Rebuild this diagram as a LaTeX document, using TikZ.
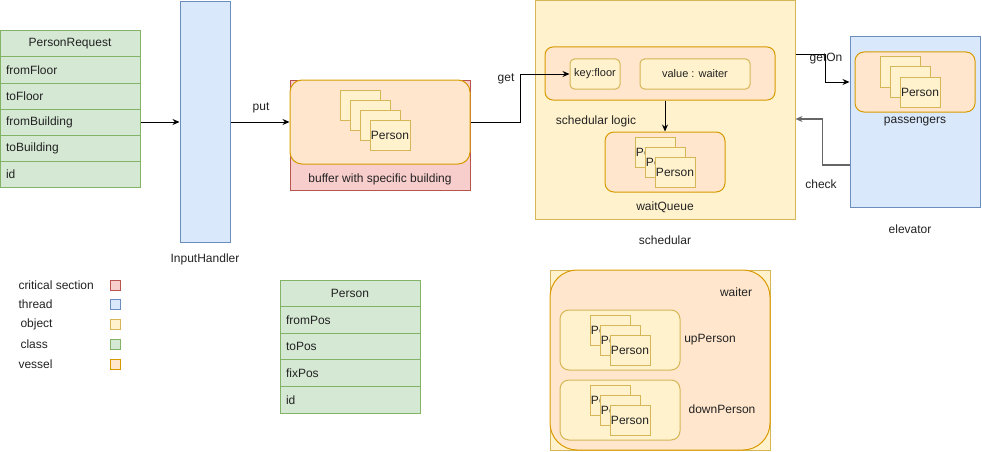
\documentclass[tikz,border=0pt]{standalone}
\usepackage{fontspec}
\setmainfont{Liberation Sans}
\usetikzlibrary{arrows.meta}

\definecolor{critFill}{HTML}{F8CECC}
\definecolor{critLine}{HTML}{B85450}
\definecolor{threadFill}{HTML}{DAE8FC}
\definecolor{threadLine}{HTML}{6C8EBF}
\definecolor{objFill}{HTML}{FFF2CC}
\definecolor{objLine}{HTML}{D6B656}
\definecolor{classFill}{HTML}{D5E8D4}
\definecolor{classLine}{HTML}{82B366}
\definecolor{vesselFill}{HTML}{FFE6CC}
\definecolor{vesselLine}{HTML}{D79B00}
\definecolor{ink}{HTML}{222222}
\definecolor{checkLine}{HTML}{666666}

\begin{document}
\begin{tikzpicture}[x=1pt,y=-1pt,line width=1pt,
    every node/.style={font=\fontsize{12}{14}\selectfont, text=ink, inner sep=0pt},
    crit/.style={draw=critLine, fill=critFill},
    thread/.style={draw=threadLine, fill=threadFill},
    object/.style={draw=objLine, fill=objFill},
    class/.style={draw=classLine, fill=classFill},
    vessel/.style={draw=vesselLine, fill=vesselFill},
    card/.style={object, minimum width=40, minimum height=30},
    head/.style={class, minimum width=140, minimum height=26},
    row/.style={class, minimum height=26, text width=128pt, align=left, inner xsep=6pt},
    legendbox/.style={minimum width=10, minimum height=10},
    arrow/.style={-{Stealth[length=7pt,width=6pt]}}]
    \useasboundingbox (0,0) rectangle (982,452);

    % PersonRequest class
    \node[head] at (70,44)  (req)              {PersonRequest};
    \node[row]  at (70,70)  (req_fromFloor)    {fromFloor};
    \node[row]  at (70,96)  (req_toFloor)      {toFloor};
    \node[row]  at (70,122) (req_fromBuilding) {fromBuilding};
    \node[row]  at (70,148) (req_toBuilding)   {toBuilding};
    \node[row]  at (70,174) (req_id)           {id};

    % input thread
    \node[thread, minimum width=50, minimum height=240] at (205,122) (handler) {};
    \node at (205,259) (handler_label) {InputHandler};

    % buffer
    \node[crit, minimum width=180, minimum height=110] at (380,135) (buf_crit) {};
    \node[vessel, rounded corners=12pt, minimum width=180, minimum height=84] at (380,122) (buf) {};
    \node[card] at (360,105) (buf_p1) {};
    \node[card] at (370,115) (buf_p2) {};
    \node[card] at (380,125) (buf_p3) {};
    \node[card] at (390,135) (buf_p4) {Person};
    \node at (380,179) (buf_label) {buffer with specific building};

    % schedular
    \node[object, minimum width=260, minimum height=219] at (665,110) (sched) {};
    \node[vessel, rounded corners=8pt, minimum width=230, minimum height=53] at (660,73.5) (logic) {};
    \node[object, rounded corners=4.5pt, minimum width=50, minimum height=30, font=\fontsize{11}{13}\selectfont] at (595,74) (key) {key:floor};
    \node[object, rounded corners=4.5pt, minimum width=110, minimum height=30, font=\fontsize{11}{13}\selectfont] at (695,74) (value) {value : waiter};
    \node at (596,121) (logic_label) {schedular logic};
    \node[vessel, rounded corners=9pt, minimum width=120, minimum height=60] at (665,162) (wait) {};
    \node[card] at (655,152) (wait_p1) {Person};
    \node[card] at (665,162) (wait_p2) {Person};
    \node[card] at (675,172) (wait_p3) {Person};
    \node at (665,207) (wait_label) {waitQueue};
    \node at (665,240) (sched_label) {schedular};

    % elevator
    \node[thread, minimum width=130, minimum height=170] at (915,122) (elev) {};
    \node[vessel, rounded corners=9pt, minimum width=120, minimum height=60] at (915,82) (pass) {};
    \node[card] at (900,72) (pass_p1) {};
    \node[card] at (910,82) (pass_p2) {};
    \node[card] at (920,92) (pass_p3) {Person};
    \node at (915,122) (pass_label) {passengers};
    \node at (910,229) (elev_label) {elevator};

    % legend
    \node[anchor=west] at (18,285) (lg_crit)   {critical section};
    \node[anchor=west] at (18,304) (lg_thread) {thread};
    \node[anchor=west] at (20,324) (lg_obj)    {object};
    \node[anchor=west] at (20,344) (lg_class)  {class};
    \node[anchor=west] at (18,364) (lg_vessel) {vessel};
    \node[crit, legendbox]   at (115,285) (lg_crit_box)   {};
    \node[thread, legendbox] at (115,304) (lg_thread_box) {};
    \node[object, legendbox] at (115,324) (lg_obj_box)    {};
    \node[class, legendbox]  at (115,344) (lg_class_box)  {};
    \node[vessel, legendbox] at (115,364) (lg_vessel_box) {};

    % Person class
    \node[head]                      at (350,293.3) (person)         {Person};
    \node[row, minimum height=26.6]  at (350,320)   (person_fromPos) {fromPos};
    \node[row, minimum height=26.6]  at (350,346.6) (person_toPos)   {toPos};
    \node[row, minimum height=26.6]  at (350,373.2) (person_fixPos)  {fixPos};
    \node[row, minimum height=26.6]  at (350,399.8) (person_id)      {id};

    % waiter
    \node[object, minimum width=220, minimum height=180] at (660,360) (waiter_box) {};
    \node[vessel, rounded corners=27pt, minimum width=220, minimum height=180] at (660,360) (waiter) {};
    \node at (736,292) (waiter_label) {waiter};
    \node[object, rounded corners=9pt, minimum width=120, minimum height=60] at (620,340) (up) {};
    \node[card] at (610,330) (up_p1) {Person};
    \node[card] at (620,340) (up_p2) {Person};
    \node[card] at (630,350) (up_p3) {Person};
    \node at (710,340) (up_label) {upPerson};
    \node[object, rounded corners=9pt, minimum width=120, minimum height=60] at (620,410) (down) {};
    \node[card] at (610,400) (down_p1) {Person};
    \node[card] at (620,410) (down_p2) {Person};
    \node[card] at (630,420) (down_p3) {Person};
    \node at (722,409) (down_label) {downPerson};

    % connectors
    \draw[arrow] (req_fromBuilding.east) -- (handler.west);
    \draw[arrow] (handler.east) -- (buf.west);
    \node at (261,108) (put_label) {put};
    \draw[arrow] (buf.east) -- ++(50,0) |- (key.west);
    \node at (506,79) (get_label) {get};
    \draw[arrow] (wait.north |- logic.south) -- (wait.north);
    \draw[arrow] ([yshift=55pt]sched.east) -- ++(30,0) |- (elev.west |- pass);
    \node at (826,59) (geton_label) {getOn};
    \draw[arrow, draw=checkLine, line width=1.5pt] ([yshift=-43pt]elev.west) -- ++(-27,0) |- ([yshift=-9pt]sched.east);
    \node at (821,184) (check_label) {check};
\end{tikzpicture}
\end{document}
